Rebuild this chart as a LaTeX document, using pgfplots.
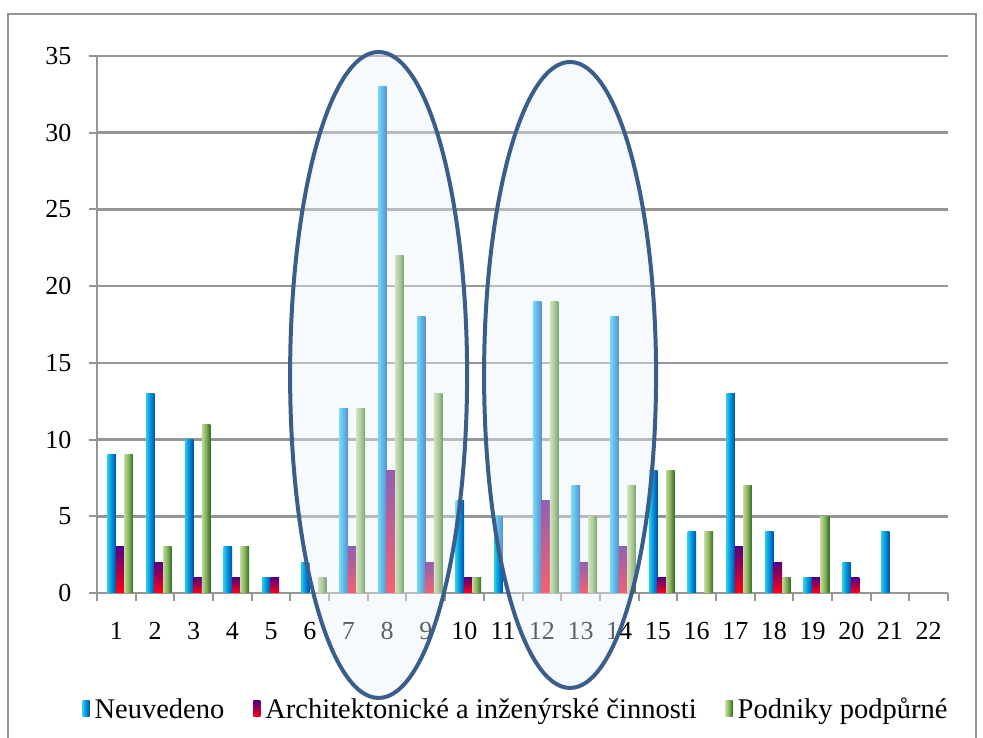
\documentclass[border=0pt]{standalone}
\usepackage{pgfplots}
\usepackage{pgfplotstable}
\pgfplotsset{compat=1.18}
\usepackage{fontspec}
\setmainfont{Liberation Serif}
\definecolor{ellline}{RGB}{58,94,140}
\definecolor{ellfill}{RGB}{236,242,250}
\definecolor{gridc}{RGB}{150,150,150}
\definecolor{bA}{RGB}{40,205,225}
\definecolor{bB}{RGB}{0,140,225}
\definecolor{bC}{RGB}{0,80,165}
\definecolor{pTop}{RGB}{85,0,130}
\definecolor{pBot}{RGB}{255,0,20}
\definecolor{gA}{RGB}{190,215,150}
\definecolor{gB}{RGB}{130,175,90}
\definecolor{gC}{RGB}{45,110,30}
\pgfplotstableread{
x a b c
1 9 3 9
2 13 2 3
3 10 1 11
4 3 1 3
5 1 1 0
6 2 0 1
7 12 3 12
8 33 8 22
9 18 2 13
10 6 1 1
11 5 0 0
12 19 6 19
13 7 2 5
14 18 3 7
15 8 1 8
16 4 0 4
17 13 3 7
18 4 2 1
19 1 1 5
20 2 1 0
21 4 0 0
22 0 0 0
}\data
\pgfplotsset{
  blues/.style={draw=none, left color=bA, right color=bC, middle color=bB},
  purples/.style={draw=none, top color=pTop, bottom color=pBot},
  greens/.style={draw=none, left color=gA, right color=gC, middle color=gB},
}
\begin{document}
\begin{tikzpicture}
\useasboundingbox (0pt,0pt) rectangle (983pt,738pt);
\draw[gray!85, line width=2.5pt] (8pt,-20pt) rectangle (976pt,724pt);
\begin{axis}[
  at={(97pt,145pt)}, anchor=south west,
  scale only axis, width=851pt, height=537pt,
  xmin=0.5, xmax=22.5, ymin=0, ymax=35,
  ybar=0pt, bar width=0.22,
  clip=false,
  axis x line*=bottom, axis y line*=left,
  axis line style={gridc, line width=2.5pt, -},
  ytick={0,5,...,35},
  xtick={1,...,22},
  minor xtick={0.5,1.5,...,22.5},
  major x tick style={draw=none},
  minor x tick style={gridc, line width=2pt},
  y tick style={gridc, line width=2pt},
  tick align=outside,
  major tick length=8pt, minor tick length=8pt,
  ymajorgrids,
  major grid style={gridc, line width=2.5pt},
  /pgf/number format/assume math mode=true,
  ticklabel style={font=\fontsize{26}{30}\selectfont, text=black},
  yticklabel style={xshift=-14pt},
  xticklabel style={yshift=-18pt},
  legend style={at={(0.4924,-0.216)}, anchor=center, draw=none, fill=none,
    font=\fontsize{28.5}{32}\selectfont, legend columns=-1,
    /tikz/every even column/.append style={column sep=27pt},
    /tikz/every odd column/.append style={column sep=3pt},
    inner sep=0pt},
  legend image code/.code={\path[#1] (0pt,-8pt) rectangle (7pt,8pt);},
]
\pgfplotsinvokeforeach{1,...,22}{
  \addplot[forget plot, blues, bar shift=-0.12, x filter/.expression={abs(x-#1)<0.2 ? x : nan}] table[x=x,y=a]{\data};
  \addplot[forget plot, purples, bar shift=0.1, x filter/.expression={abs(x-#1)<0.2 ? x : nan}] table[x=x,y=b]{\data};
  \addplot[forget plot, greens, bar shift=0.32, x filter/.expression={abs(x-#1)<0.2 ? x : nan}] table[x=x,y=c]{\data};
}
\addlegendimage{blues}
\addlegendentry{Neuvedeno}
\addlegendimage{purples}
\addlegendentry{Architektonické a inženýrské činnosti}
\addlegendimage{greens}
\addlegendentry{Podniky podpůrné}
\coordinate (e1) at (axis cs:7.78,14.21);
\coordinate (e2) at (axis cs:12.73,14.21);
\end{axis}
\draw[ellline, line width=4pt, fill=ellfill, fill opacity=0.4] (e1) ellipse [x radius=88.5pt, y radius=323pt];
\draw[ellline, line width=4pt, fill=ellfill, fill opacity=0.4] (e2) ellipse [x radius=86pt, y radius=313pt];
\end{tikzpicture}
\end{document}
